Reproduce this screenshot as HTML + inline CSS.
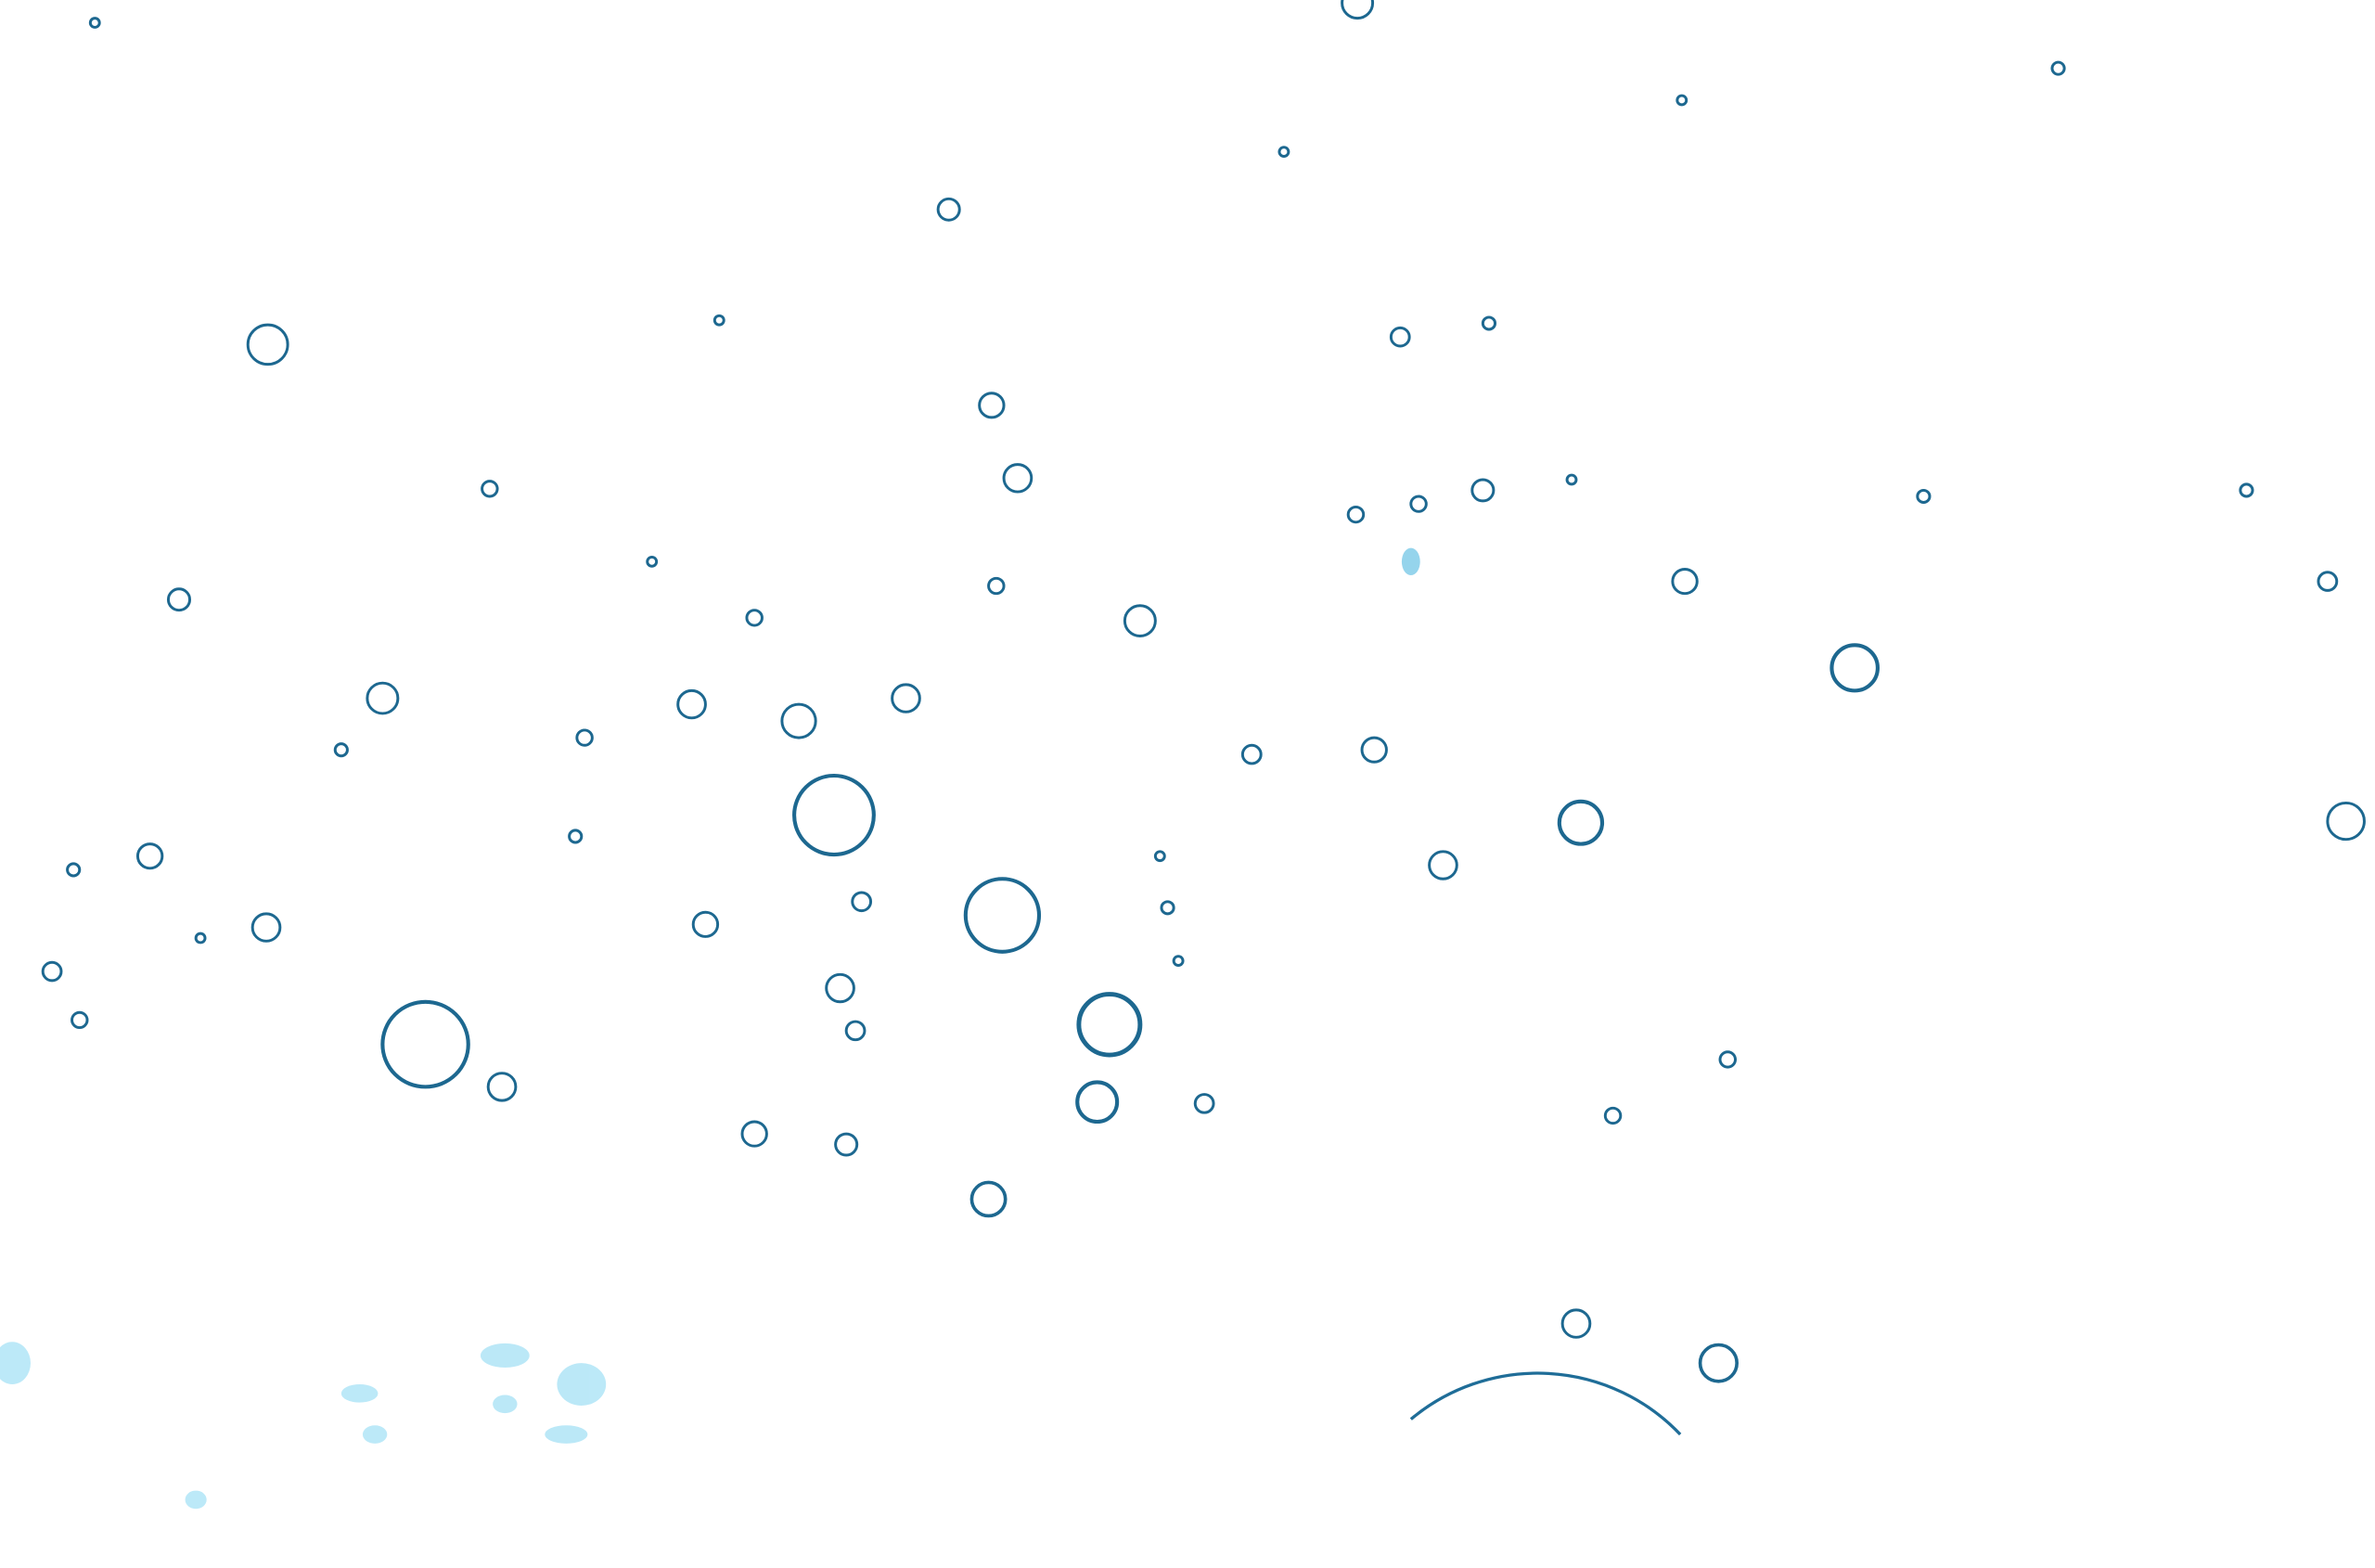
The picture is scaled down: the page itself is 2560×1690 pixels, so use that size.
<!DOCTYPE html>
<html><head><meta charset="utf-8"><style>
html,body{margin:0;padding:0;background:#fff;width:2560px;height:1690px;overflow:hidden}
svg{display:block}
</style></head><body>
<svg width="2560" height="1690" viewBox="0 0 1552 1033" preserveAspectRatio="none" xmlns="http://www.w3.org/2000/svg">
<rect width="1552" height="1033" fill="#fff"/>
<g fill="#8fdaf3" opacity="0.6">
<ellipse cx="8" cy="898" rx="12" ry="14"/>
<ellipse cx="330" cy="893" rx="16" ry="8"/>
<ellipse cx="380" cy="912" rx="16" ry="14"/>
<ellipse cx="330" cy="925" rx="8" ry="6"/>
<ellipse cx="370" cy="945" rx="14" ry="6"/>
<ellipse cx="235" cy="918" rx="12" ry="6"/>
<ellipse cx="245" cy="945" rx="8" ry="6"/>
<ellipse cx="128" cy="988" rx="7" ry="6" opacity="1"/>
<ellipse cx="922" cy="370" rx="6" ry="9" fill="#4fb8e0" opacity="1"/>
</g>
<g fill="none" stroke="#1f6d98" stroke-width="2">
<path d="M922 935 A128 128 0 0 1 1098 945"/>
</g>
<g fill="none" stroke="#1d6890" stroke-width="1.8">
<circle cx="175" cy="227" r="13"/><circle cx="620" cy="138" r="7"/><circle cx="648" cy="267" r="8"/>
<circle cx="665" cy="315" r="9"/><circle cx="915" cy="222" r="6"/><circle cx="973" cy="213" r="4"/>
<circle cx="969" cy="323" r="7"/><circle cx="927" cy="332" r="5"/><circle cx="886" cy="339" r="5"/>
<circle cx="1101" cy="383" r="8"/><circle cx="1212" cy="440" r="15" stroke-width="2.5"/><circle cx="1257" cy="327" r="4"/>
<circle cx="1468" cy="323" r="4"/><circle cx="1521" cy="383" r="6"/><circle cx="1533" cy="541" r="12"/>
<circle cx="1033" cy="542" r="14" stroke-width="2.5"/><circle cx="943" cy="570" r="9"/><circle cx="898" cy="494" r="8"/>
<circle cx="818" cy="497" r="6"/><circle cx="745" cy="409" r="10"/><circle cx="592" cy="460" r="9"/>
<circle cx="522" cy="475" r="11"/><circle cx="545" cy="537" r="26" stroke-width="2.5"/><circle cx="655" cy="603" r="24" stroke-width="2.5"/>
<circle cx="725" cy="675" r="20" stroke-width="3"/><circle cx="717" cy="726" r="13" stroke-width="2.5"/><circle cx="646" cy="790" r="11" stroke-width="2.2"/>
<circle cx="787" cy="727" r="6"/><circle cx="563" cy="594" r="6"/><circle cx="549" cy="651" r="9"/>
<circle cx="559" cy="679" r="6"/><circle cx="461" cy="609" r="8"/><circle cx="493" cy="747" r="8"/>
<circle cx="553" cy="754" r="7"/><circle cx="328" cy="716" r="9"/><circle cx="278" cy="688" r="28" stroke-width="2.5"/>
<circle cx="174" cy="611" r="9"/><circle cx="98" cy="564" r="8"/><circle cx="117" cy="395" r="7"/>
<circle cx="250" cy="460" r="10"/><circle cx="452" cy="464" r="9"/><circle cx="382" cy="486" r="5"/>
<circle cx="320" cy="322" r="5"/><circle cx="493" cy="407" r="5"/><circle cx="651" cy="386" r="5"/>
<circle cx="1129" cy="698" r="5"/><circle cx="1054" cy="735" r="5"/><circle cx="1030" cy="872" r="9"/>
<circle cx="1123" cy="898" r="12" stroke-width="2.2"/><circle cx="34" cy="640" r="6"/><circle cx="52" cy="672" r="5"/>
<circle cx="223" cy="494" r="4"/><circle cx="376" cy="551" r="4"/><circle cx="48" cy="573" r="4"/>
<circle cx="1345" cy="45" r="4"/><circle cx="1099" cy="66" r="3"/><circle cx="887" cy="2" r="10"/>
<circle cx="839" cy="100" r="3"/><circle cx="470" cy="211" r="3"/><circle cx="1027" cy="316" r="3"/>
<circle cx="763" cy="598" r="4"/><circle cx="770" cy="633" r="3"/><circle cx="758" cy="564" r="3"/>
<circle cx="131" cy="618" r="3"/><circle cx="426" cy="370" r="3"/><circle cx="62" cy="15" r="3"/>
</g>
</svg>
</body></html>
